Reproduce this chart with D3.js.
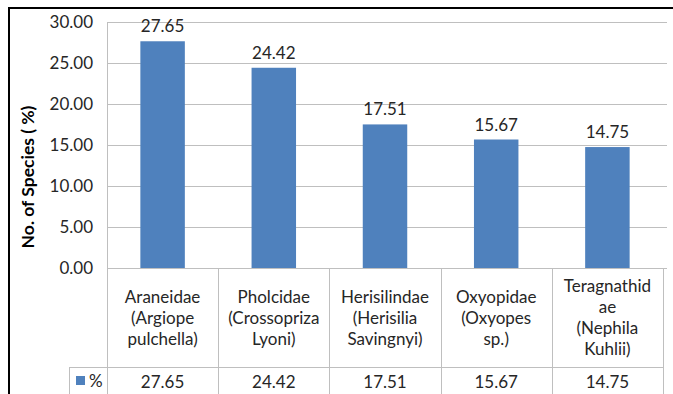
<!DOCTYPE html>
<html>
<head>
<meta charset="utf-8">
<script src="https://cdn.jsdelivr.net/npm/d3@7/dist/d3.min.js"></script>
<style>
  html, body { margin: 0; padding: 0; background: #fff; }
  svg { display: block; font-family: Lato, "Open Sans", sans-serif; }
</style>
</head>
<body>
<svg id="chart" width="673" height="394"></svg>
<script>
// Spider families and their share of species
const families = [
  ["Araneidae", "(Argiope", "pulchella)"],
  ["Pholcidae", "(Crossopriza", "Lyoni)"],
  ["Herisilindae", "(Herisilia", "Savingnyi)"],
  ["Oxyopidae", "(Oxyopes", "sp.)"],
  ["Teragnathid", "ae", "(Nephila", "Kuhlii)"]
];
const percentages = [27.65, 24.42, 17.51, 15.67, 14.75];
const yTicks = [0, 5, 10, 15, 20, 25, 30];
const seriesName = "%";

const svg = d3.select("#chart");
const barColor = "#4F81BD";
const gridColor = "#BFBFBF";
const textColor = "#262626";
const fontSize = 17;

const plot = { left: 107, right: 663, top: 22, bottom: 268 };
const rowCat = { top: 268, bottom: 367 };
const rowData = { top: 367, bottom: 400 };

const x = d3.scaleBand()
  .domain(d3.range(families.length))
  .range([plot.left, plot.right])
  .paddingInner(0.6).paddingOuter(0.3);
const xCell = d3.scaleBand()
  .domain(d3.range(families.length))
  .range([plot.left, plot.right]);
const y = d3.scaleLinear().domain([0, 30]).range([plot.bottom, plot.top]);

// outer chart frame
svg.append("path")
  .attr("d", `M9,394 V8 H673`)
  .attr("fill", "none").attr("stroke", "#000").attr("stroke-width", 2);

// horizontal gridlines + value axis labels
const yAxis = d3.axisLeft(y).tickValues(yTicks)
  .tickSize(-(plot.right + 4 - plot.left))
  .tickPadding(14)
  .tickFormat(d3.format(".2f"));
const gy = svg.append("g").attr("transform", `translate(${plot.left},0)`).call(yAxis);
gy.select(".domain").remove();
gy.selectAll(".tick line").attr("stroke", gridColor).attr("stroke-width", 1);
gy.selectAll(".tick text")
  .attr("fill", textColor).attr("font-size", fontSize)
  .attr("font-family", "Lato, sans-serif");

// vertical axis line
svg.append("line")
  .attr("x1", plot.left + 0.5).attr("x2", plot.left + 0.5)
  .attr("y1", plot.top).attr("y2", rowData.bottom)
  .attr("stroke", gridColor);

// bars
svg.append("g").selectAll("rect")
  .data(percentages)
  .join("rect")
  .attr("x", (d, i) => x(i))
  .attr("width", x.bandwidth())
  .attr("y", d => y(d))
  .attr("height", d => y(0) - y(d))
  .attr("fill", barColor);

// value labels
svg.append("g").selectAll("text")
  .data(percentages)
  .join("text")
  .attr("x", (d, i) => x(i) + x.bandwidth() / 2)
  .attr("y", d => y(d) - 9)
  .attr("text-anchor", "middle")
  .attr("font-size", fontSize)
  .attr("fill", textColor)
  .text(d => d.toFixed(2));

// data table grid
const tbl = svg.append("g").attr("stroke", gridColor).attr("fill", "none");
tbl.append("line").attr("x1", plot.left).attr("x2", plot.right + 4)
  .attr("y1", rowCat.top + 0.5).attr("y2", rowCat.top + 0.5);
tbl.append("line").attr("x1", 69).attr("x2", plot.right)
  .attr("y1", rowData.top + 0.5).attr("y2", rowData.top + 0.5);
tbl.append("line").attr("x1", 69.5).attr("x2", 69.5)
  .attr("y1", rowData.top).attr("y2", rowData.bottom);
tbl.selectAll("line.sep")
  .data(d3.range(1, families.length + 1))
  .join("line")
  .attr("class", "sep")
  .attr("x1", i => Math.round(xCell(i - 1) + xCell.bandwidth()) + 0.5)
  .attr("x2", i => Math.round(xCell(i - 1) + xCell.bandwidth()) + 0.5)
  .attr("y1", rowCat.top).attr("y2", rowData.bottom);

// category labels
const cats = svg.append("g").selectAll("text")
  .data(families)
  .join("text")
  .attr("text-anchor", "middle")
  .attr("font-size", fontSize)
  .attr("fill", textColor)
  .attr("transform", (d, i) => {
    const cy = (rowCat.top + rowCat.bottom) / 2 - (d.length - 1) * 21 / 2 + 6;
    return `translate(${xCell(i) + xCell.bandwidth() / 2},${cy})`;
  });
cats.selectAll("tspan")
  .data(d => d)
  .join("tspan")
  .attr("x", 0)
  .attr("dy", (d, j) => j === 0 ? 0 : 21)
  .text(d => d);

// data row values
svg.append("g").selectAll("text")
  .data(percentages)
  .join("text")
  .attr("x", (d, i) => xCell(i) + xCell.bandwidth() / 2)
  .attr("y", 388)
  .attr("text-anchor", "middle")
  .attr("font-size", fontSize)
  .attr("fill", textColor)
  .text(d => d.toFixed(2));

// legend key in the table
svg.append("rect").attr("x", 76).attr("y", 376).attr("width", 9).attr("height", 9).attr("fill", barColor);
svg.append("text").attr("x", 89).attr("y", 387).attr("font-size", fontSize).attr("fill", textColor).text(seriesName);

// value axis title
svg.append("text")
  .attr("transform", `translate(34,177) rotate(-90)`)
  .attr("text-anchor", "middle")
  .attr("font-size", 17.5)
  .attr("font-weight", "bold")
  .attr("fill", "#000")
  .text("No. of Species ( %)");
</script>
</body>
</html>
